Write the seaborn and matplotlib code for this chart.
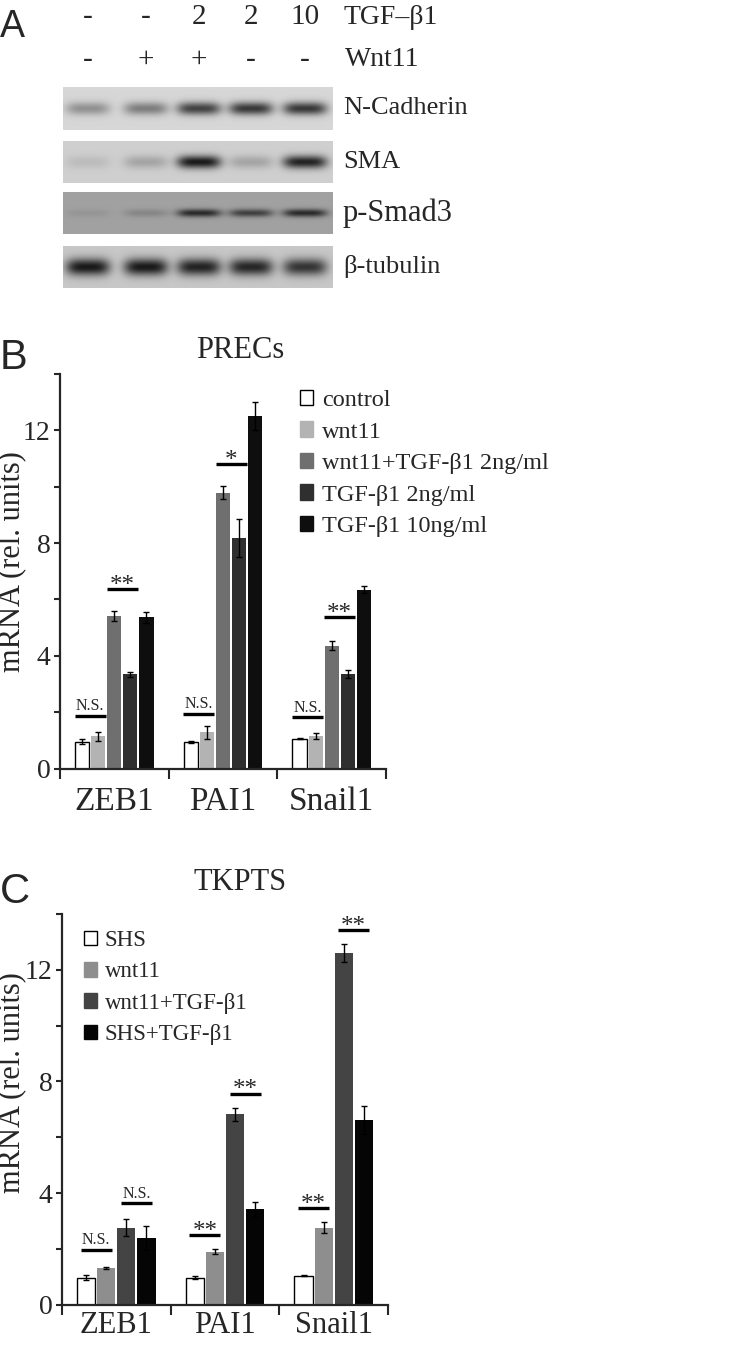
import numpy as np
import pandas as pd
import matplotlib
matplotlib.use("Agg")
import matplotlib.pyplot as plt
import seaborn as sns
from matplotlib.patches import Patch

# ---------------- data ----------------
genes = ["ZEB1", "PAI1", "Snail1"]

# Panel A (western blot): header rows and relative band darkness per lane
tgf_row = ["-", "-", "2", "2", "10"]
wnt_row = ["-", "+", "+", "-", "-"]
blot_names = ["N-Cadherin", "SMA", "p-Smad3", "β-tubulin"]
ncad_band = [0.35, 0.45, 0.75, 0.80, 0.80]
sma_band = [0.10, 0.22, 0.95, 0.22, 0.90]
psmad_band = [0.08, 0.18, 0.80, 0.65, 0.80]
tub_band = [0.95, 0.95, 0.90, 0.88, 0.80]
blot_bg = [0.84, 0.81, 0.63, 0.78]

# Panel B (PRECs)
b_groups = ["control", "wnt11", "wnt11+TGF-β1 2ng/ml", "TGF-β1 2ng/ml", "TGF-β1 10ng/ml"]
b_colors = ["#ffffff", "#b3b3b3", "#6f6f6f", "#2f2f2f", "#0e0e0e"]
b_zeb1 = [0.95, 1.14, 5.42, 3.35, 5.36]
b_pai1 = [0.95, 1.29, 9.79, 8.18, 12.51]
b_snail1 = [1.06, 1.14, 4.36, 3.35, 6.34]
b_err_zeb1 = [0.08, 0.15, 0.17, 0.09, 0.20]
b_err_pai1 = [0.03, 0.23, 0.24, 0.66, 0.51]
b_err_snail1 = [0.03, 0.11, 0.16, 0.15, 0.12]
b_sig_gene = [0, 0, 1, 1, 2, 2]
b_sig_pair = [0, 2, 0, 2, 0, 2]
b_sig_y = [1.87, 6.37, 1.94, 10.8, 1.81, 5.36]
b_sig_txt = ["N.S.", "**", "N.S.", "*", "N.S.", "**"]

# Panel C (TKPTS)
c_groups = ["SHS", "wnt11", "wnt11+TGF-β1", "SHS+TGF-β1"]
c_colors = ["#ffffff", "#8e8e8e", "#444444", "#050505"]
c_zeb1 = [0.98, 1.33, 2.77, 2.40]
c_pai1 = [0.98, 1.91, 6.83, 3.43]
c_snail1 = [1.04, 2.77, 12.59, 6.63]
c_err_zeb1 = [0.08, 0.03, 0.30, 0.42]
c_err_pai1 = [0.06, 0.08, 0.23, 0.27]
c_err_snail1 = [0.02, 0.19, 0.32, 0.50]
c_sig_gene = [0, 0, 1, 1, 2, 2]
c_sig_pair = [0, 2, 0, 2, 0, 2]
c_sig_y = [1.97, 3.64, 2.50, 7.56, 3.46, 13.40]
c_sig_txt = ["N.S.", "N.S.", "**", "**", "**", "**"]

# ---------------- style ----------------
sns.set_style("ticks")
plt.rcParams["font.family"] = ["Liberation Serif", "DejaVu Serif"]

W, H = 750, 1348
fig = plt.figure(figsize=(W / 100, H / 100), dpi=100)

# overlay axes in pixel coordinates
ov = fig.add_axes([0, 0, 1, 1])
ov.set_xlim(0, W)
ov.set_ylim(H, 0)
ov.axis("off")
ov.set_zorder(0)

# ---------------- panel A ----------------
lane_x = [88, 146, 199, 251, 305]
strip_y = [(87, 130), (141, 183), (192, 234), (246, 288)]
band_h = [6.5, 6.5, 4.0, 8.5]
bx0, bx1 = 63, 333
xs = np.arange(bx0, bx1, 1.0) + 0.5
for k, (vals, (y0, y1)) in enumerate(zip([ncad_band, sma_band, psmad_band, tub_band], strip_y)):
    ys = np.arange(y0, y1, 1.0) + 0.5
    X, Y = np.meshgrid(xs, ys)
    cy = (y0 + y1) / 2
    dark = np.zeros_like(X)
    for lx, v in zip(lane_x, vals):
        dark += v * np.exp(-((X - lx) / 22.0) ** 4) * np.exp(-((Y - cy) / band_h[k]) ** 2)
    dark = np.clip(dark, 0, 1)
    img = blot_bg[k] * (1 - 0.92 * dark)
    ov.imshow(img, cmap="gray", vmin=0, vmax=1, extent=[bx0, bx1, y1, y0],
              aspect="auto", interpolation="bilinear", zorder=1)
ov.set_xlim(0, W)
ov.set_ylim(H, 0)

for lx, t in zip(lane_x, tgf_row):
    ov.text(lx, 17, t, ha="center", va="center", fontsize=21)
for lx, t in zip(lane_x, wnt_row):
    ov.text(lx, 60, t, ha="center", va="center", fontsize=21)
ov.text(343, 17, "TGF–β1", ha="left", va="center", fontsize=20)
ov.text(345, 60, "Wnt11", ha="left", va="center", fontsize=20)
for name, (y0, y1) in zip(blot_names, strip_y):
    fs = 22 if name == "p-Smad3" else 19
    ov.text(343, (y0 + y1) / 2, name, ha="left", va="center", fontsize=fs)

ov.text(0, 27, "A", ha="left", va="center", fontsize=27, family="Liberation Sans")
ov.text(0, 358, "B", ha="left", va="center", fontsize=30, family="Liberation Sans")
ov.text(0, 892, "C", ha="left", va="center", fontsize=30, family="Liberation Sans")

ov.text(240, 351, "PRECs", ha="center", va="center", fontsize=22)
ov.text(240, 882, "TKPTS", ha="center", va="center", fontsize=22)
ov.text(12, 562, "mRNA (rel. units)", rotation=90, ha="center", va="center", fontsize=22)
ov.text(12, 1083, "mRNA (rel. units)", rotation=90, ha="center", va="center", fontsize=22)


# ---------------- bar panels ----------------
def bar_panel(rect, groups, colors, vals, errs, sig_gene, sig_pair, sig_y, sig_txt, gap,
              leg_anchor, leg_fs, leg_sp, xl_fs, xl_pad):
    ax = fig.add_axes(rect)
    ax.set_zorder(2)
    ax.patch.set_alpha(0)
    rows = []
    for g, vv in zip(genes, vals):
        for grp, v in zip(groups, vv):
            rows.append((g, grp, v))
    df = pd.DataFrame(rows, columns=["gene", "group", "value"])
    sns.barplot(data=df, x="gene", y="value", hue="group", order=genes, hue_order=groups,
                palette=colors, width=0.74, gap=gap, errorbar=None, legend=False,
                saturation=1, linewidth=0, ax=ax)
    bars = list(ax.containers)
    for r in bars[0]:
        r.set_edgecolor("black")
        r.set_linewidth(1.0)
    # error bars
    for h, cont in enumerate(bars):
        for gi, r in enumerate(cont):
            xc = r.get_x() + r.get_width() / 2
            ax.errorbar([xc], [r.get_height()], yerr=[errs[gi][h]], fmt="none",
                        ecolor="black", elinewidth=1.0, capsize=2.2, capthick=1.0, zorder=5)
    # significance
    for gi, p, y, t in zip(sig_gene, sig_pair, sig_y, sig_txt):
        r1 = bars[p][gi]
        r2 = bars[p + 1][gi]
        c = (r1.get_x() + r1.get_width() / 2 + r2.get_x() + r2.get_width() / 2) / 2
        ax.plot([c - 0.143, c + 0.143], [y, y], color="black", lw=2.4, solid_capstyle="butt")
        if t == "N.S.":
            ax.annotate(t, (c, y), xytext=(0, 4), textcoords="offset points",
                        ha="center", va="baseline", fontsize=11.5)
        else:
            ax.annotate(t, (c, y), xytext=(0, -2), textcoords="offset points",
                        ha="center", va="baseline", fontsize=18)
    ax.set_xlim(-0.5, 2.5)
    ax.set_ylim(0, 14)
    ax.set_yticks(np.arange(0, 15, 2))
    ax.set_yticklabels(["0", "", "4", "", "8", "", "12", ""])
    ax.tick_params(axis="y", direction="out", length=4, width=1.5, labelsize=20, pad=3)
    ax.set_xticks([0, 1, 2])
    ax.set_xticklabels(genes)
    ax.tick_params(axis="x", which="major", length=0, labelsize=xl_fs, pad=xl_pad)
    ax.set_xticks([-0.5, 0.5, 1.5, 2.5], minor=True)
    ax.tick_params(axis="x", which="minor", direction="out", length=7, width=1.5)
    ax.set_xlabel("")
    ax.set_ylabel("")
    for s in ["top", "right"]:
        ax.spines[s].set_visible(False)
    for s in ["left", "bottom"]:
        ax.spines[s].set_linewidth(1.6)
    handles = [Patch(facecolor=c, edgecolor=("black" if c == "#ffffff" else c), linewidth=1.0)
               for c in colors]
    ax.legend(handles, groups, loc="upper left", bbox_to_anchor=leg_anchor,
              bbox_transform=fig.transFigure, frameon=False, fontsize=leg_fs,
              handlelength=0.55, handleheight=0.6, handletextpad=0.35,
              labelspacing=leg_sp, borderpad=0, borderaxespad=0)
    return ax


axB = bar_panel([60 / W, 1 - 768.5 / H, 326 / W, 394.5 / H], b_groups, b_colors,
                [b_zeb1, b_pai1, b_snail1], [b_err_zeb1, b_err_pai1, b_err_snail1],
                b_sig_gene, b_sig_pair, b_sig_y, b_sig_txt, 0.12,
                (300 / W, 1 - 390 / H), 17.5, 0.42, 24, 13)
axC = bar_panel([62 / W, 1 - 1305 / H, 326 / W, 391.3 / H], c_groups, c_colors,
                [c_zeb1, c_pai1, c_snail1], [c_err_zeb1, c_err_pai1, c_err_snail1],
                c_sig_gene, c_sig_pair, c_sig_y, c_sig_txt, 0.10,
                (84 / W, 1 - 930 / H), 16.5, 0.45, 22, 4)

fig.savefig("out.png", dpi=100)
